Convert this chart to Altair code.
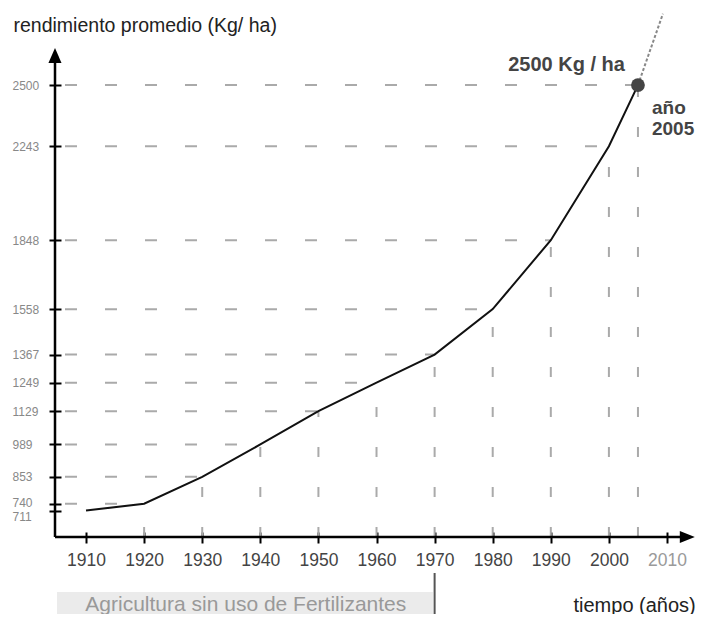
import altair as alt
import pandas as pd

# ---- data ----
anios = [1910, 1920, 1930, 1940, 1950, 1960, 1970, 1980, 1990, 2000, 2005]
rendimiento = [711, 740, 853, 989, 1129, 1249, 1367, 1558, 1848, 2243, 2500]
proy_anios = [2005, 2009.3]
proy_rend = [2500, 2800]
x_ticks = [1910, 1920, 1930, 1940, 1950, 1960, 1970, 1980, 1990, 2000, 2010]
y_ticks = [711, 740, 853, 989, 1129, 1249, 1367, 1558, 1848, 2243, 2500]

# ---- layout constants ----
FONT = "Liberation Sans"
X0, X1 = 1904.66, 2014.99
Y0, Y1 = 600, 2824
W, H = 641, 529
Y_ARROW = 2624
X_ARROW = 2013.5
BOX_X0, BOX_X1 = 1905.0, 1969.7
BOX_TEXT_X = 1937.5

xs = alt.Scale(domain=[X0, X1], nice=False, zero=False)
ys = alt.Scale(domain=[Y0, Y1], nice=False, zero=False)

X_AXIS = alt.Axis(
    values=x_ticks, format="d", orient="bottom", offset=-5, domain=False, grid=False,
    ticks=True, tickSize=11, tickWidth=2, tickColor="black",
    labelFont=FONT, labelFontSize=17.5,
    labelColor=alt.condition("datum.value == 2010", alt.value("#9a9a9a"), alt.value("#444444")),
    labelPadding=17, labelBaseline="middle", labelOverlap=False, labelFlush=False,
    title="tiempo (años)", titleX=518, titleY=73, titleAlign="left", titleBaseline="middle",
    titleFont=FONT, titleFontSize=20, titleFontWeight="normal", titleColor="#222222",
)
Y_AXIS = alt.Axis(
    values=y_ticks, format="d", orient="left", offset=-6, domain=False, grid=False,
    ticks=True, tickSize=12, tickWidth=2, tickColor="black",
    labelFont=FONT, labelFontSize=12, labelColor="#888888", labelAlign="left",
    labelOffset={
        "condition": [
            {"test": "datum.value == 711", "value": 6},
            {"test": "datum.value == 740", "value": -1},
        ],
        "value": 0,
    },
    labelPadding=37, labelBaseline="middle", labelOverlap=False, labelFlush=False,
    title="rendimiento promedio (Kg/ ha)", titleAngle=0, titleX=-48, titleY=23.5,
    titleAlign="left", titleBaseline="alphabetic",
    titleFont=FONT, titleFontSize=19.5, titleFontWeight="normal", titleColor="#222222",
)


def X(f):
    return alt.X(f, type="quantitative", scale=xs, axis=X_AXIS)


def Y(f):
    return alt.Y(f, type="quantitative", scale=ys, axis=Y_AXIS)


df = pd.DataFrame({"anio": anios, "rend": rendimiento})
proj = pd.DataFrame({"anio": proy_anios, "rend": proy_rend})
final = df[df["anio"] == 2005]

base = alt.Chart(df)

hgrid = (
    alt.Chart(df[df["rend"] > 711])
    .transform_calculate(x0=str(X0))
    .mark_rule(color="#aaaaaa", strokeWidth=2, strokeDash=[12, 28], strokeDashOffset=30)
    .encode(x=X("x0"), x2="anio:Q", y=Y("rend"))
)
vgrid = (
    alt.Chart(df[df["anio"] >= 1920])
    .transform_calculate(y0=str(Y0))
    .mark_rule(color="#aaaaaa", strokeWidth=2, strokeDash=[10, 30])
    .encode(x=X("anio"), y=Y("y0"), y2="rend:Q")
)
line = base.mark_line(color="#111111", strokeWidth=2).encode(x=X("anio"), y=Y("rend"))
proj_line = alt.Chart(proj).mark_line(color="#888888", strokeWidth=2, strokeDash=[3, 2]).encode(
    x=X("anio"), y=Y("rend")
)
dot = alt.Chart(final).mark_point(filled=True, size=190, color="#444444", opacity=1).encode(
    x=X("anio"), y=Y("rend")
)

axes_df = pd.DataFrame({"x0": [X0], "y0": [Y0], "ya": [Y_ARROW], "xa": [X_ARROW]})
y_axis_line = alt.Chart(axes_df).mark_rule(color="black", strokeWidth=2.5).encode(
    x=X("x0"), y=Y("y0"), y2="ya:Q"
)
x_axis_line = alt.Chart(axes_df).mark_rule(color="black", strokeWidth=2.5).encode(
    x=X("x0"), x2="xa:Q", y=Y("y0")
)
y_arrow = alt.Chart(axes_df).mark_point(
    shape="M0,-1L0.87,1L-0.87,1Z", filled=True, size=225, color="black", opacity=1
).encode(x=X("x0"), y=Y("ya"))
x_arrow = alt.Chart(axes_df).mark_point(
    shape="M1,0L-1,0.8L-1,-0.8Z", filled=True, size=225, color="black", opacity=1
).encode(x=X("xa"), y=Y("y0"))

lbl_val = alt.Chart(final).mark_text(
    text="2500 Kg / ha", font=FONT, fontSize=20, fontWeight="bold", color="#444444",
    align="right", baseline="middle", dx=-13, dy=-20,
).encode(x=X("anio"), y=Y("rend"))
lbl_a1 = alt.Chart(final).mark_text(
    text="año", font=FONT, fontSize=19, fontWeight="bold", color="#444444",
    align="left", baseline="middle", dx=14, dy=23,
).encode(x=X("anio"), y=Y("rend"))
lbl_a2 = alt.Chart(final).mark_text(
    text="2005", font=FONT, fontSize=19, fontWeight="bold", color="#444444",
    align="left", baseline="middle", dx=14, dy=44,
).encode(x=X("anio"), y=Y("rend"))

box_df = pd.DataFrame({"x0": [BOX_X0], "x1": [BOX_X1], "xt": [BOX_TEXT_X], "xs": [1970]})
box = alt.Chart(box_df).mark_rect(color="#ebebeb").encode(
    x=X("x0"), x2="x1:Q", y=alt.value(584), y2=alt.value(606)
)
box_text = alt.Chart(box_df).mark_text(
    text="Agricultura sin uso de Fertilizantes", font=FONT, fontSize=21, color="#999999",
    align="center", baseline="middle",
).encode(x=X("xt"), y=alt.value(597))
sep = alt.Chart(box_df).mark_rule(color="#555555", strokeWidth=2).encode(
    x=X("xs"), y=alt.value(565), y2=alt.value(606)
)

chart = (
    alt.layer(
        box, box_text, sep, hgrid, vgrid, proj_line, line, dot,
        y_axis_line, x_axis_line, y_arrow, x_arrow, lbl_val, lbl_a1, lbl_a2,
    )
    .properties(
        width=W, height=H,
        autosize=alt.AutoSizeParams(type="none"),
        padding={"left": 47, "top": 0, "right": 0, "bottom": 77},
        background="white",
    )
    .configure_view(stroke=None, clip=False)
)

chart.save("out.html", embed_options={"renderer": "svg", "actions": False})
